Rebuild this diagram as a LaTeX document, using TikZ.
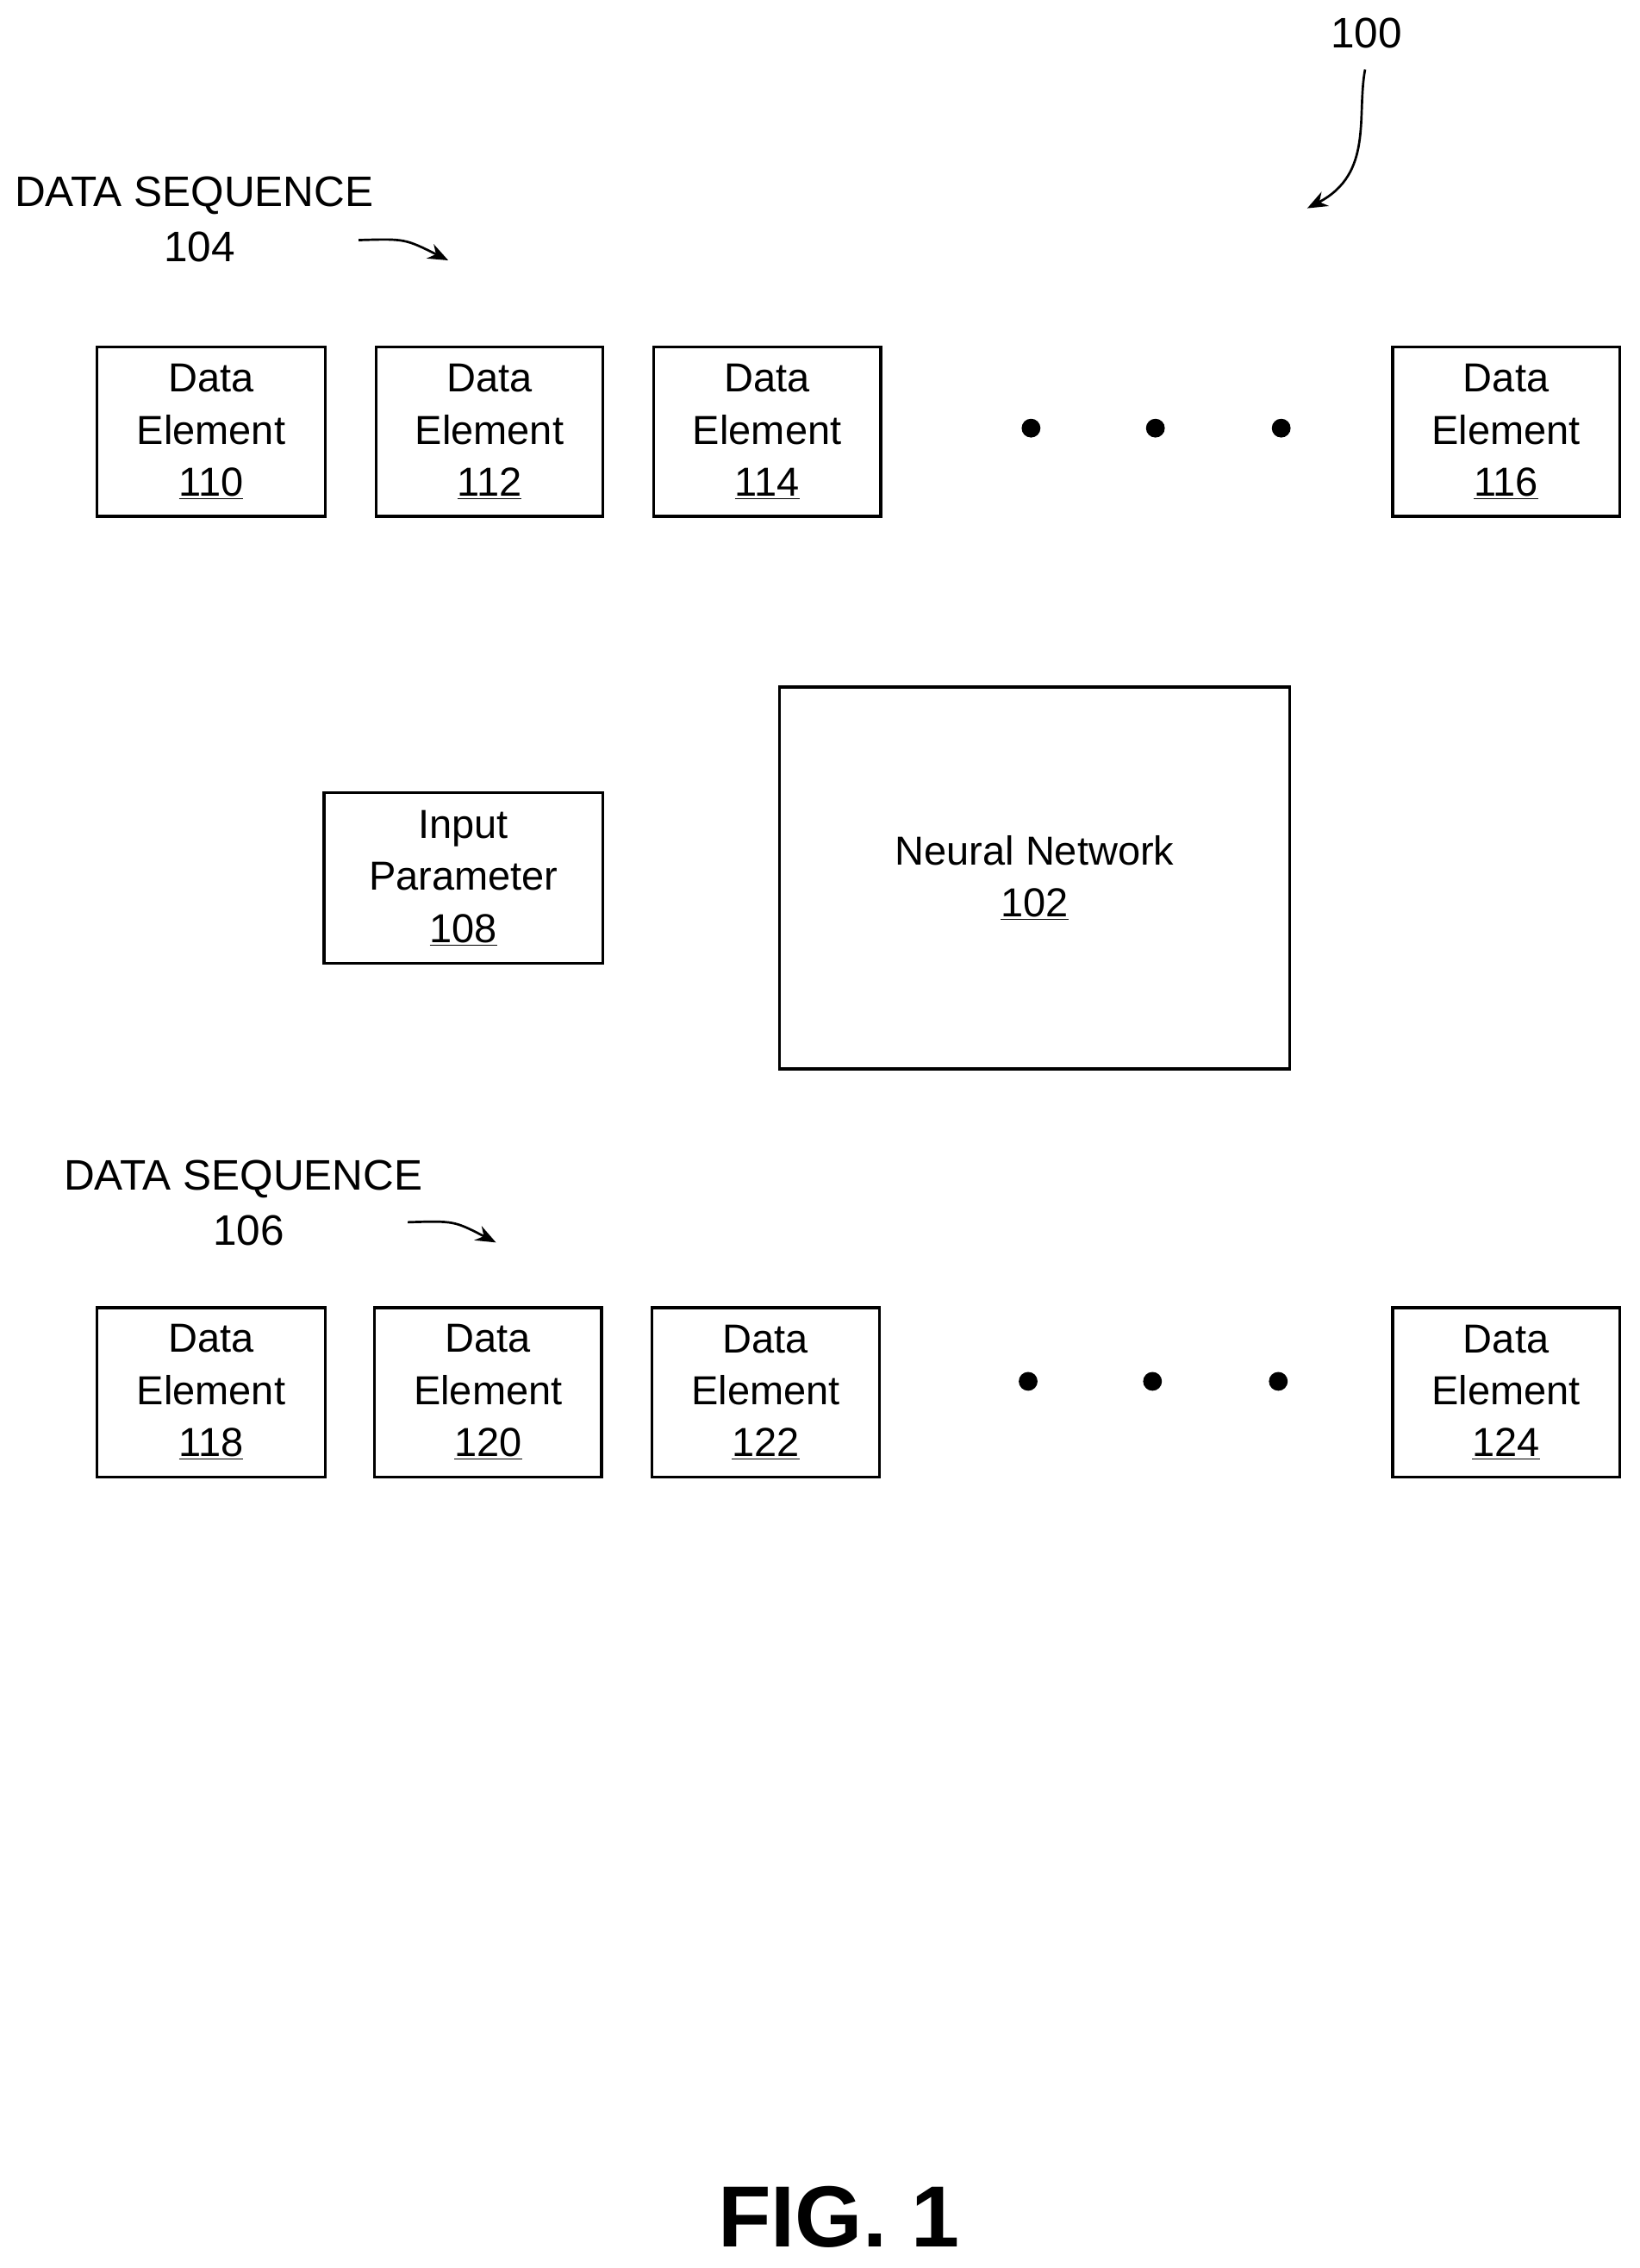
\documentclass[tikz,border=0pt]{standalone}
\usepackage{fontspec}
\setmainfont{Liberation Sans}
\usetikzlibrary{arrows.meta}
\begin{document}
\begin{tikzpicture}[x=1pt,y=-1pt,
  box/.style={draw,line width=2pt,align=center,font=\fontsize{28}{36}\selectfont},
  lbl/.style={font=\fontsize{29.5}{36}\selectfont,align=center},
  dot/.style={circle,fill,inner sep=0pt,minimum size=13pt},
  arr/.style={line width=1.6pt,-{Stealth[length=14pt,width=11pt]}}]
\useasboundingbox (0,0) rectangle (1134,1568);
\newcommand{\de}[5]{\node[box,minimum width=#3-#2,minimum height=117pt,inner sep=0pt] (#1) at ({(#2+#3)/2},#4) {Data\\Element\\\underline{#5}};}
\de{d110}{67}{225}{298.5}{110}
\de{d112}{260}{417}{298.5}{112}
\de{d114}{452}{609}{298.5}{114}
\de{d116}{963}{1120}{298.5}{116}
\de{d118}{67}{225}{962.5}{118}
\de{d120}{259}{416}{962.5}{120}
\de{d122}{451}{608}{962.5}{122}
\de{d124}{963}{1120}{962.5}{124}
\node[dot] (t1) at (713,296) {}; \node[dot] (t2) at (799,296) {}; \node[dot] (t3) at (886,296) {};
\node[dot] (b1) at (711,955) {}; \node[dot] (b2) at (797,955) {}; \node[dot] (b3) at (884,955) {};
\node[box,minimum width=353pt,minimum height=264pt,inner sep=0pt] (nn) at (715.5,607) {Neural Network\\\underline{102}};
\node[box,minimum width=193pt,minimum height=118pt,inner sep=0pt] (ip) at (320.5,607) {Input\\Parameter\\\underline{108}};
\node[lbl,anchor=west,inner sep=0pt] (s104) at (10,135) {DATA SEQUENCE};
\node[lbl] (n104) at (138,171) {104};
\node[lbl,anchor=west,inner sep=0pt] (s106) at (44,815) {DATA SEQUENCE};
\node[lbl] (n106) at (172,851) {106};
\node[lbl] (n100) at (945,23) {100};
\coordinate (a1s) at (248,166); \coordinate (a1e) at (310,180);
\coordinate (a2s) at (282,845); \coordinate (a2e) at (343,859);
\coordinate (a3s) at (944,48); \coordinate (a3e) at (904,144);
\draw[arr] (a1s) .. controls (280,165) .. (a1e);
\draw[arr] (a2s) .. controls (314,844) .. (a2e);
\draw[arr] (a3s) .. controls (938,80) and (950,120) .. (a3e);
\node[font=\bfseries\fontsize{60}{70}\selectfont] (fig) at (580,1533) {FIG. 1};
\end{tikzpicture}
\end{document}
